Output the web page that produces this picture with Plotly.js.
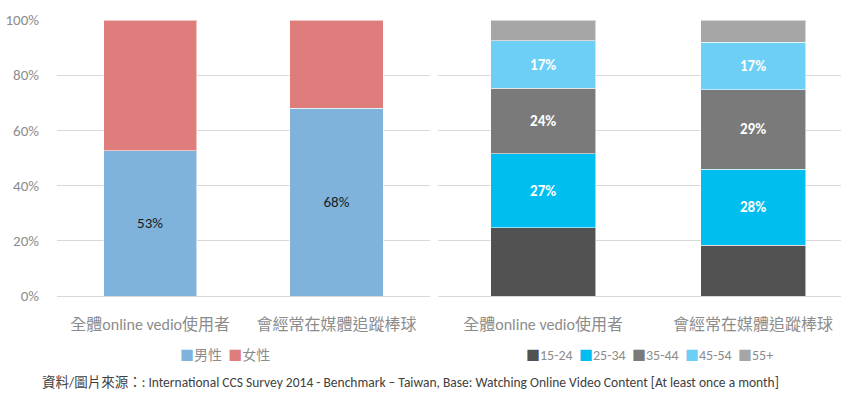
<!DOCTYPE html>
<html><head><meta charset="utf-8">
<script src="https://cdn.plot.ly/plotly-3.0.1.min.js"></script>
<style>html,body{margin:0;padding:0;background:#fff}#chart{width:841px;height:396px}</style>
</head><body><div id="chart"></div>
<script>
const categories = ['全體online vedio使用者', '會經常在媒體追蹤棒球'];
const genderNames = ['男性', '女性'];
const male = [52.6, 68.0];
const female = [47.4, 32.0];
const ageNames = ['15-24', '25-34', '35-44', '45-54', '55+'];
const age1524 = [24.8, 18.3];
const age2534 = [26.8, 27.6];
const age3544 = [23.6, 28.9];
const age4554 = [17.2, 17.2];
const age55p = [7.6, 8.0];
const yTicks = [0, 20, 40, 60, 80, 100];
const yTickText = ['0%', '20%', '40%', '60%', '80%', '100%'];
const sourceText = '資料/圖片來源：: International CCS Survey 2014 - Benchmark – Taiwan, Base: Watching Online Video Content [At least once a month]';

const FONT = "Carlito, Calibri, 'Open Sans', 'Noto Sans CJK TC', sans-serif";
const sep = {color: 'rgba(255,255,255,0.55)', width: 1};
const genderColors = ['#7fb3db', '#df7c7c'];
const ageColors = ['#525252', '#00bff0', '#7a7a7a', '#6dcff6', '#a6a6a6'];

function bar(name, y, color, axis, showText, textColor, bold) {
  const t = {
    type: 'bar', name: name, x: categories, y: y,
    xaxis: axis[0], yaxis: axis[1], showlegend: false,
    marker: {color: color, line: sep}, width: 0.5,
    hoverinfo: 'skip'
  };
  if (showText) {
    t.texttemplate = bold ? '<b>%{y:.0f}%</b>' : '%{y:.0f}%';
    t.textposition = 'inside';
    t.insidetextanchor = 'middle';
    t.textangle = 0;
    t.textfont = {color: textColor, size: 15, family: FONT};
  } else {
    t.textposition = 'none';
  }
  return t;
}

const L = ['x', 'y'], R = ['x2', 'y2'];
const data = [
  bar(genderNames[0], male, genderColors[0], L, true, '#1a1a1a', false),
  bar(genderNames[1], female, genderColors[1], L, false),
  bar(ageNames[0], age1524, ageColors[0], R, false),
  bar(ageNames[1], age2534, ageColors[1], R, true, '#ffffff', true),
  bar(ageNames[2], age3544, ageColors[2], R, true, '#ffffff', true),
  bar(ageNames[3], age4554, ageColors[3], R, true, '#ffffff', true),
  bar(ageNames[4], age55p, ageColors[4], R, false)
];

function legendText(names, colors) {
  return names.map((n, i) => '<span style="color:' + colors[i] + '">■</span>' + n).join('  ');
}

const yBase = {
  range: [0, 100], tickvals: yTicks, ticktext: yTickText,
  showgrid: true, gridcolor: '#d9d9d9', gridwidth: 1,
  zeroline: true, zerolinecolor: '#d9d9d9', zerolinewidth: 1,
  showline: false, fixedrange: true
};
const xBase = {
  type: 'category', showline: false, ticks: 'outside', ticklen: 14, tickcolor: 'rgba(0,0,0,0)', showgrid: false,
  tickfont: {size: 16, color: '#8c8c8c', family: FONT}
};

const layout = {
  width: 841, height: 396,
  margin: {l: 0, r: 0, t: 20, b: 100},
  paper_bgcolor: '#fff', plot_bgcolor: '#fff',
  font: {family: FONT, color: '#8c8c8c'},
  barmode: 'stack', showlegend: false,
  xaxis: Object.assign({}, xBase, {domain: [0.0678, 0.511], range: [-0.5, 1.5], anchor: 'y'}),
  yaxis: Object.assign({}, yBase, {domain: [0, 1], anchor: 'x', ticks: 'outside', ticklen: 14, tickcolor: 'rgba(0,0,0,0)',
    tickfont: {size: 15, color: '#8c8c8c', family: FONT}}),
  xaxis2: Object.assign({}, xBase, {domain: [0.521, 1], range: [-0.5, 1.419], anchor: 'y2'}),
  yaxis2: Object.assign({}, yBase, {domain: [0, 1], anchor: 'x2', showticklabels: false}),
  annotations: [
    {text: legendText(genderNames, genderColors), xref: 'paper', yref: 'paper', x: 0.268, xanchor: 'center',
     y: -0.214, yanchor: 'middle', showarrow: false, font: {size: 14, color: '#8c8c8c', family: FONT}},
    {text: legendText(ageNames, ageColors), xref: 'paper', yref: 'paper', x: 0.7725, xanchor: 'center',
     y: -0.214, yanchor: 'middle', showarrow: false, font: {size: 14, color: '#8c8c8c', family: FONT}},
    {text: sourceText, xref: 'paper', yref: 'paper', x: 0.0476, xanchor: 'left',
     y: -0.315, yanchor: 'middle', showarrow: false, font: {size: 13.5, color: '#404040', family: FONT}}
  ]
};

Plotly.newPlot('chart', data, layout, {displayModeBar: false, staticPlot: true});
</script></body></html>
